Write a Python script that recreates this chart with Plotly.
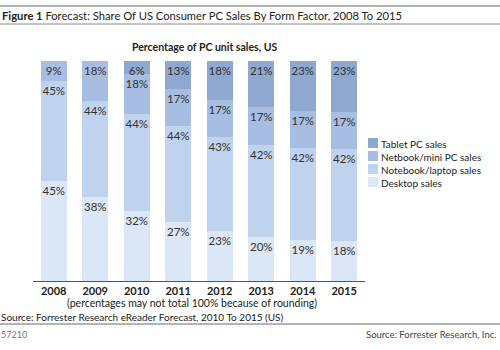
import plotly.graph_objects as go

years = ["2008", "2009", "2010", "2011", "2012", "2013", "2014", "2015"]
desktop = [45, 38, 32, 27, 23, 20, 19, 18]
notebook = [45, 44, 44, 44, 43, 42, 42, 42]
netbook = [9, 18, 18, 17, 17, 17, 17, 17]
tablet = [None, None, 6, 13, 18, 21, 23, 23]

series = [
    ("Desktop sales", desktop, "#dbe6f6"),
    ("Notebook/laptop sales", notebook, "#c0d3ee"),
    ("Netbook/mini PC sales", netbook, "#a7bee2"),
    ("Tablet PC sales", tablet, "#8fa8d0"),
]

FONT = "Lato"
W, H = 500, 350
L, R, T, B = 33, 135, 61, 69
PW = W - L - R
PH = H - T - B


def px(x):
    return (x - L) / PW


def py(y):
    return (H - B - y) / PH


fig = go.Figure()
for name, vals, col in series:
    fig.add_trace(go.Bar(
        x=years, y=vals, name=name,
        marker=dict(color=col, line=dict(width=0)),
        text=[("" if v is None else f"{v}%") for v in vals],
        textposition="inside", insidetextanchor="end",
        textangle=0,
        textfont=dict(family=FONT, size=11.5, color="#333333"),
        showlegend=False,
    ))

fig.update_layout(
    width=W, height=H,
    margin=dict(l=L, r=R, t=T, b=B),
    barmode="stack", barnorm="percent", bargap=0.37,
    plot_bgcolor="white", paper_bgcolor="white",
    font=dict(family=FONT, size=11, color="#222222"),
    uniformtext=dict(mode="show", minsize=11),
    showlegend=False,
    xaxis=dict(
        showline=True, linecolor="#555555", linewidth=1,
        showgrid=False, ticks="",
        tickfont=dict(family=FONT, size=11, color="#222222", weight="bold"),
    ),
    yaxis=dict(range=[0, 100], visible=False, showgrid=False),
)

# Legend (compact, drawn as swatches + text), top entry = Tablet
LEG_SIZE = 10
leg_dy = LEG_SIZE * 1.3
leg_mid = 162.5
names = [s[0] for s in reversed(series)]
cols = [s[2] for s in reversed(series)]
n = len(names)
for i, col in enumerate(cols):
    yc = leg_mid + (i - (n - 1) / 2) * leg_dy
    fig.add_shape(type="rect", xref="paper", yref="paper",
                  x0=px(368), x1=px(378), y0=py(yc - 5), y1=py(yc + 5),
                  fillcolor=col, line=dict(width=0))
fig.add_annotation(text="<br>".join(names), x=px(380), y=py(leg_mid + 1),
                   xref="paper", yref="paper", xanchor="left", yanchor="middle",
                   align="left", showarrow=False, borderpad=0,
                   font=dict(family=FONT, size=LEG_SIZE, color="#222222"))

ann = [
    dict(text="<b>Figure 1</b> Forecast: Share Of US Consumer PC Sales By Form Factor, 2008 To 2015",
         x=px(1), y=py(15), xanchor="left", yanchor="middle", size=11.2, color="#222222"),
    dict(text="<b>Percentage of PC unit sales, US</b>",
         x=px(204), y=py(47), xanchor="center", yanchor="middle", size=10.5, color="#222222"),
    dict(text="(percentages may not total 100% because of rounding)",
         x=px(192), y=py(303), xanchor="center", yanchor="middle", size=10.5, color="#222222"),
    dict(text="Source: Forrester Research eReader Forecast, 2010 To 2015 (US)",
         x=px(0), y=py(316.5), xanchor="left", yanchor="middle", size=10, color="#222222"),
    dict(text="57210",
         x=px(0), y=py(334), xanchor="left", yanchor="middle", size=9, color="#777777"),
    dict(text="Source: Forrester Research, Inc.",
         x=px(498), y=py(334), xanchor="right", yanchor="middle", size=9.5, color="#444444"),
]
for a in ann:
    fig.add_annotation(text=a["text"], x=a["x"], y=a["y"], xref="paper", yref="paper",
                       xanchor=a["xanchor"], yanchor=a["yanchor"], showarrow=False,
                       borderpad=0,
                       font=dict(family=FONT, size=a["size"], color=a["color"]))

for y0, col, w in [(6, "#b4b4b4", 2), (24, "#8a8a8a", 1), (324, "#b4b4b4", 2)]:
    fig.add_shape(type="line", xref="paper", yref="paper",
                  x0=px(0), x1=px(W), y0=py(y0), y1=py(y0),
                  line=dict(color=col, width=w))

fig.write_html("out.html")
